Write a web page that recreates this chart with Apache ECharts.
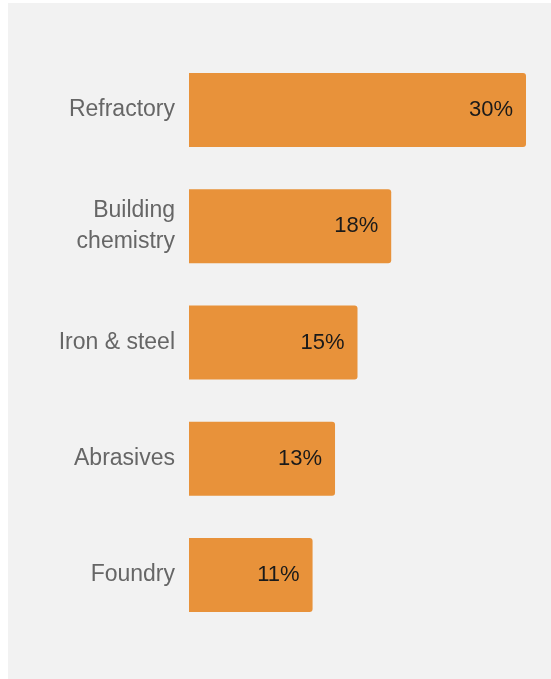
<!DOCTYPE html>
<html>
<head>
<meta charset="utf-8">
<script src="https://cdn.jsdelivr.net/npm/echarts@6/dist/echarts.min.js"></script>
<style>
  html, body { margin: 0; padding: 0; background: #ffffff; }
  #chart { width: 551px; height: 679px; }
</style>
</head>
<body>
<div id="chart"></div>
<script>
// End-use segments and their share of demand (%)
const categories = ['Refractory', 'Building\nchemistry', 'Iron & steel', 'Abrasives', 'Foundry'];
const shares = [30, 18, 15, 13, 11];

const chart = echarts.init(document.getElementById('chart'), null, { renderer: 'canvas' });

chart.setOption({
  backgroundColor: '#ffffff',
  animation: false,
  graphic: [{
    type: 'rect',
    z: -10,
    shape: { x: 8, y: 3, width: 543, height: 676 },
    style: { fill: '#f2f2f2' }
  }],
  grid: { left: 189, right: 25, top: 52, bottom: 46 },
  xAxis: {
    type: 'value',
    min: 0,
    max: 30,
    show: false
  },
  yAxis: {
    type: 'category',
    inverse: true,
    data: categories,
    axisLine: { show: false },
    axisTick: { show: false },
    axisLabel: {
      margin: 14,
      color: '#666666',
      fontFamily: 'Liberation Sans, Arial, sans-serif',
      fontSize: 23,
      lineHeight: 31,
      align: 'right'
    }
  },
  series: [{
    type: 'bar',
    data: shares,
    barWidth: 74,
    itemStyle: { color: '#e8923a', borderRadius: [0, 3, 3, 0] },
    label: {
      show: true,
      position: 'insideRight',
      distance: 13,
      formatter: '{c}%',
      color: '#1a1a1a',
      fontFamily: 'Liberation Sans, Arial, sans-serif',
      fontSize: 22
    }
  }]
});
</script>
</body>
</html>
